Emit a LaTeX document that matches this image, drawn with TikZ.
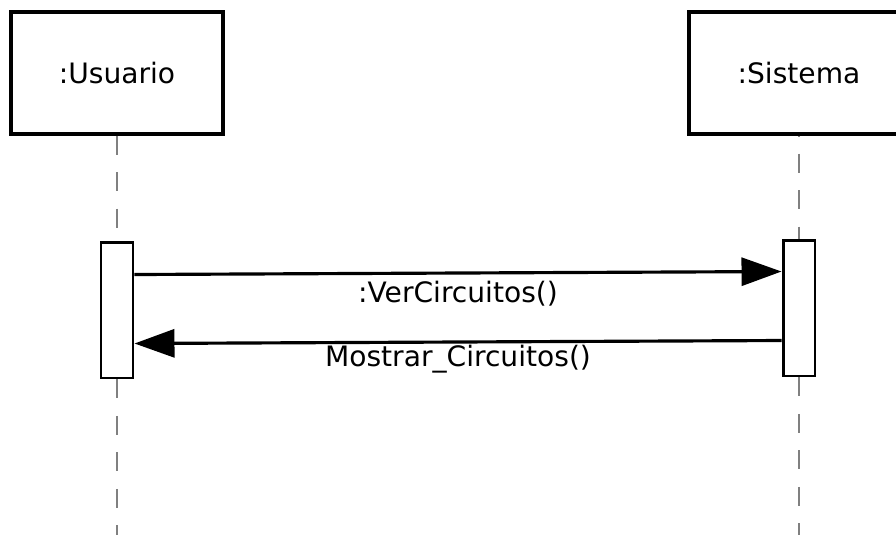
\documentclass[tikz,border=0pt]{standalone}
\usepackage{fontspec}
\setmainfont{DejaVu Sans}
\usetikzlibrary{arrows.meta}

\begin{document}
\begin{tikzpicture}[x=0.02cm, y=-0.02cm, font=\fontsize{16}{19}\selectfont,
    obj/.style={rectangle, draw, line width=1.9pt, minimum height=2.44cm, inner sep=0},
    act/.style={rectangle, draw, fill=white, line width=1.7pt, minimum width=0.64cm, minimum height=2.72cm, inner sep=0},
    life/.style={draw=gray, line width=1.5pt, dash pattern=on 0.38cm off 0.35cm},
    msg/.style={line width=1.8pt, -{Triangle[length=0.8cm, width=0.56cm]}}]
    \useasboundingbox (0,0) rectangle (896,535);
    \draw
    (117,73)node[obj, minimum width=4.24cm](u){:Usuario}
    (799,73)node[obj, minimum width=4.4cm](s){:Sistema}
    (117,310)node[act](a1){}
    (799,308)node[act](a2){}
    (117,535)coordinate(ue)
    (799,535)coordinate(se)
    ;
    \draw[life] (u.south) -- (a1.north);
    \draw[life, dash phase=0.37cm] (s.south) -- (a2.north);
    \draw[life] (a1.south) -- (ue);
    \draw[life] (a2.south) -- (se);
    \draw[msg]([yshift=-0.68cm]a1.north east)--([yshift=-0.66cm]a2.north west)
        node[midway, below, inner sep=4pt]{:VerCircuitos()};
    \draw[msg]([yshift=-2.04cm]a2.north west)--([yshift=-2.06cm]a1.north east)
        node[midway, below, inner sep=1pt]{Mostrar\_Circuitos()};
\end{tikzpicture}
\end{document}
